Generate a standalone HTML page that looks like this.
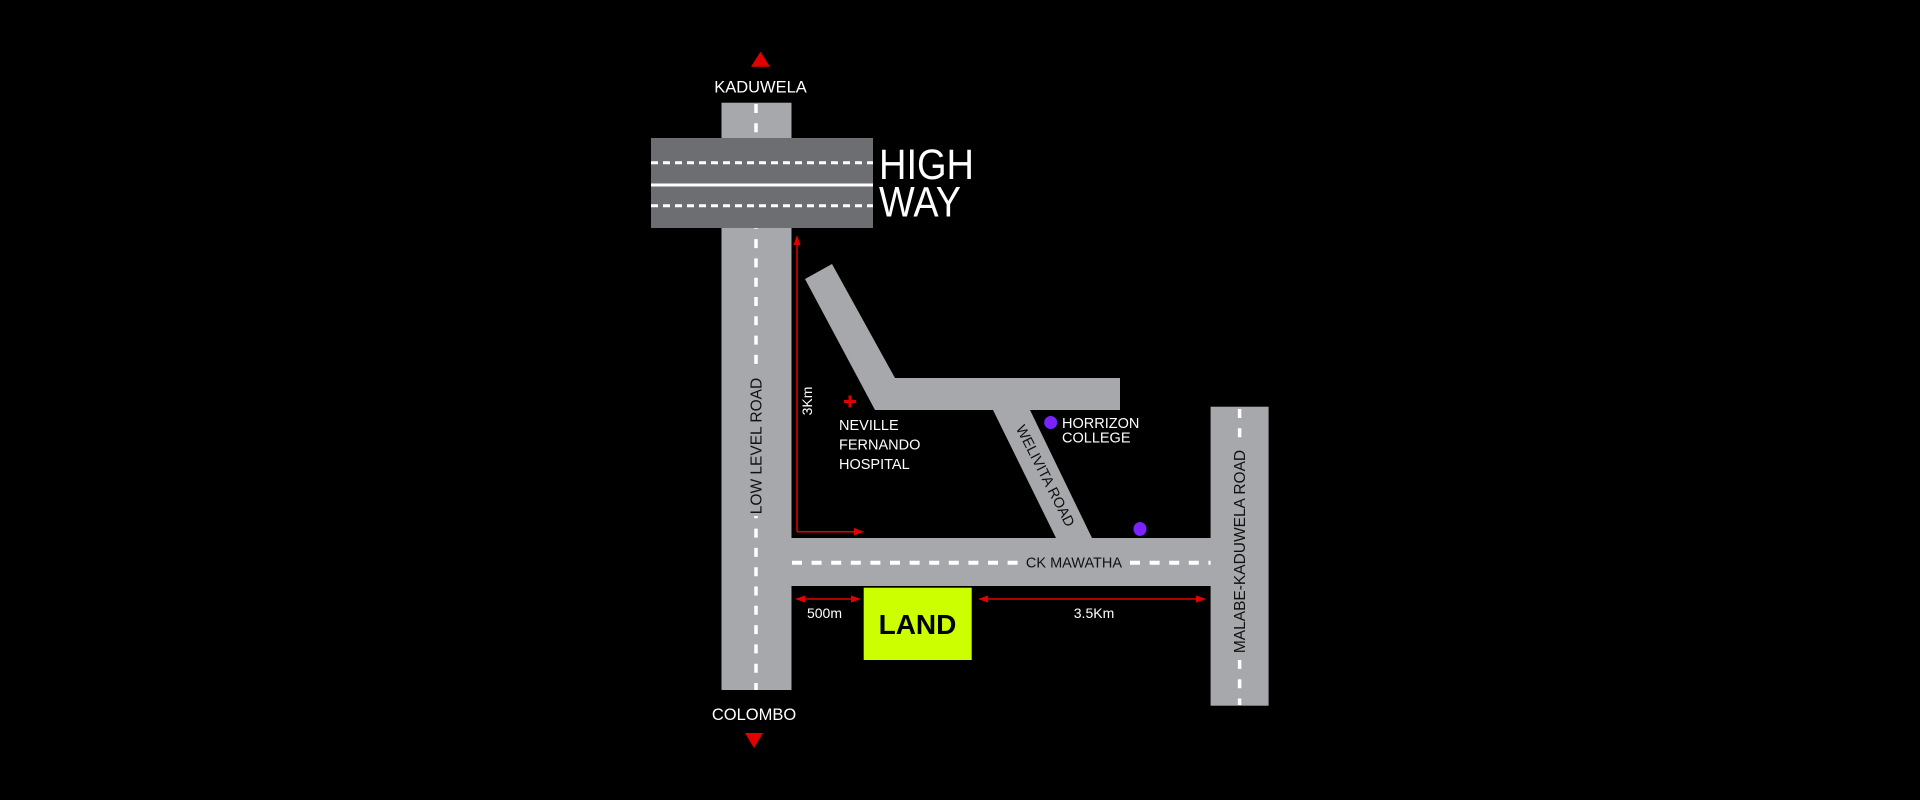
<!DOCTYPE html>
<html><head><meta charset="utf-8"><style>
html,body{margin:0;padding:0;background:#000;width:1920px;height:800px;overflow:hidden}
svg{display:block}
text{font-family:"Liberation Sans",sans-serif}
</style></head><body>
<svg width="1920" height="800" viewBox="0 0 1920 800">
<rect width="1920" height="800" fill="#000"/>
<rect x="721.5" y="102.7" width="70" height="587.3" fill="#a7a8ab"/>
<line x1="756" y1="104" x2="756" y2="690" stroke="#fff" stroke-width="3.5" stroke-dasharray="9 10.3"/>
<rect x="651" y="138" width="222" height="90" fill="#6d6e71"/>
<line x1="651" y1="162.7" x2="873" y2="162.7" stroke="#fff" stroke-width="3" stroke-dasharray="7 5"/>
<line x1="651" y1="205.7" x2="873" y2="205.7" stroke="#fff" stroke-width="3" stroke-dasharray="7 5"/>
<line x1="651" y1="185" x2="873" y2="185" stroke="#fff" stroke-width="3"/>
<text x="879" y="179" font-size="43" fill="#fff" textLength="95" lengthAdjust="spacingAndGlyphs" style="font-weight:100">HIGH</text>
<text x="879" y="216.7" font-size="43" fill="#fff" textLength="82" lengthAdjust="spacingAndGlyphs" style="font-weight:100">WAY</text>
<polygon points="751,66.7 770,66.7 760.5,51.7" fill="#e30000"/>
<text x="760.5" y="92.7" font-size="16.5" text-anchor="middle" fill="#fff">KADUWELA</text>
<polygon points="805,279 832,264 895,378 1120,378 1120,410 1030,410 1092,538 1056,538 993,410 875,410" fill="#a7a8ab"/>
<rect x="791" y="538" width="420" height="48" fill="#a7a8ab"/>
<line x1="792" y1="562.7" x2="1022" y2="562.7" stroke="#fff" stroke-width="4" stroke-dasharray="10 9.6"/>
<line x1="1130" y1="562.7" x2="1211" y2="562.7" stroke="#fff" stroke-width="4" stroke-dasharray="10 9.6"/>
<text x="1074" y="567.5" font-size="14.5" text-anchor="middle" fill="#111">CK MAWATHA</text>
<rect x="1210.6" y="406.7" width="58" height="299" fill="#a7a8ab"/>
<line x1="1239.6" y1="409" x2="1239.6" y2="705" stroke="#fff" stroke-width="3.5" stroke-dasharray="9 10.3"/>
<rect x="1230" y="442" width="20" height="218" fill="#a7a8ab"/>
<text transform="translate(1245,551.5) rotate(-90)" font-size="15.5" text-anchor="middle" fill="#111">MALABE-KADUWELA ROAD</text>
<rect x="748" y="374" width="16" height="142" fill="#a7a8ab"/>
<text transform="translate(761.5,446) rotate(-90)" font-size="15.5" text-anchor="middle" fill="#111">LOW LEVEL ROAD</text>
<text transform="translate(1041,478) rotate(63)" font-size="14.5" text-anchor="middle" fill="#111">WELIVITA ROAD</text>
<line x1="797" y1="242" x2="797" y2="531.7" stroke="#e30000" stroke-width="1.5"/>
<polygon points="793.5,245 800.5,245 797,235" fill="#e30000"/>
<line x1="797" y1="531.7" x2="856" y2="531.7" stroke="#e30000" stroke-width="1.5"/>
<polygon points="854,528 854,535.4 864,531.7" fill="#e30000"/>
<text transform="translate(812,401) rotate(-90)" font-size="14" text-anchor="middle" fill="#fff">3Km</text>
<line x1="800" y1="599" x2="856" y2="599" stroke="#e30000" stroke-width="1.5"/>
<polygon points="805,595.5 805,602.5 795,599" fill="#e30000"/>
<polygon points="851,595.5 851,602.5 861,599" fill="#e30000"/>
<text x="824.5" y="618" font-size="14" text-anchor="middle" fill="#fff">500m</text>
<line x1="985" y1="599" x2="1200" y2="599" stroke="#e30000" stroke-width="1.5"/>
<polygon points="988,595.5 988,602.5 978,599" fill="#e30000"/>
<polygon points="1196,595.5 1196,602.5 1206.5,599" fill="#e30000"/>
<text x="1094" y="618" font-size="14" text-anchor="middle" fill="#fff">3.5Km</text>
<rect x="863.7" y="587.7" width="108" height="72.3" fill="#ccff00"/>
<text x="917.5" y="634" font-size="28" font-weight="bold" text-anchor="middle" fill="#000">LAND</text>
<rect x="844" y="400" width="12" height="3" fill="#e30000"/>
<rect x="848.5" y="395.5" width="3" height="12" fill="#e30000"/>
<text x="839" y="430" font-size="14.5" fill="#fff">NEVILLE</text>
<text x="839" y="449.5" font-size="14.5" fill="#fff">FERNANDO</text>
<text x="839" y="469" font-size="14.5" fill="#fff">HOSPITAL</text>
<circle cx="1050.7" cy="422.5" r="6.5" fill="#7b22ff"/>
<text x="1062" y="428" font-size="14.5" fill="#fff">HORRIZON</text>
<text x="1062" y="442.7" font-size="14.5" fill="#fff">COLLEGE</text>
<ellipse cx="1140" cy="529" rx="6.5" ry="7" fill="#7b22ff"/>
<text x="754" y="720" font-size="16.5" text-anchor="middle" fill="#fff">COLOMBO</text>
<polygon points="745,733 763,733 754,748" fill="#e30000"/>
</svg>
</body></html>
